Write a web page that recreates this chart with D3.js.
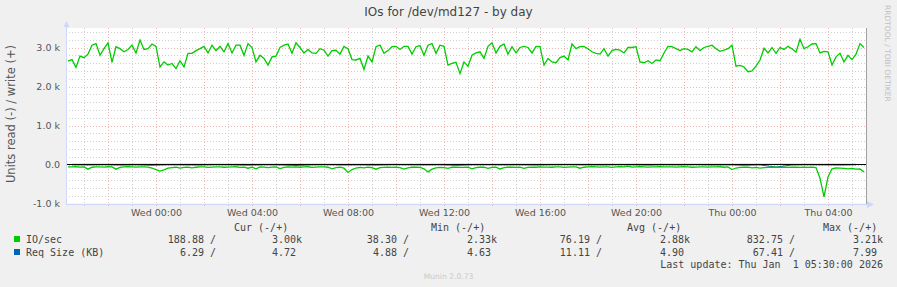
<!DOCTYPE html>
<html>
<head>
<meta charset="utf-8">
<script src="https://cdn.jsdelivr.net/npm/d3@7"></script>
<style>
body { margin: 0; background: #f0f0f0; }
svg { display: block; font-family: "DejaVu Sans", sans-serif; }
.mono { font-family: "DejaVu Sans Mono", monospace; font-size: 10px; fill: #444; white-space: pre; }
.tick text { fill: #555; font-size: 9.5px; font-family: "DejaVu Sans", sans-serif; }
</style>
</head>
<body>
<div id="chart"></div>
<script>
var width = 897, height = 287;
var plot = {left: 66, right: 866, top: 28, bottom: 203.5};

var title = "IOs for /dev/md127 - by day";
var yLabel = "Units read (-) / write (+)";

var yTicks = [-1000, 0, 1000, 2000, 3000];
var yTickLabels = ["-1.0 k", "0.0", "1.0 k", "2.0 k", "3.0 k"];

var xTicks = [
  Date.UTC(2025, 11, 31, 0), Date.UTC(2025, 11, 31, 4), Date.UTC(2025, 11, 31, 8),
  Date.UTC(2025, 11, 31, 12), Date.UTC(2025, 11, 31, 16), Date.UTC(2025, 11, 31, 20),
  Date.UTC(2026, 0, 1, 0), Date.UTC(2026, 0, 1, 4)
];
var xTickLabels = ["Wed 00:00", "Wed 04:00", "Wed 08:00", "Wed 12:00",
  "Wed 16:00", "Wed 20:00", "Thu 00:00", "Thu 04:00"];

// IO/sec, one sample every 10 minutes from Tue 20:20
var ioStart = Date.UTC(2025, 11, 30, 20, 20);
var ioStep = 10 * 60 * 1000;
var ioWrite = [
  2650,2690,2490,2780,2740,2830,3060,3100,2800,2970, 3120,2620,3020,2970,2890,2950,3060,2860,3190,2950,
  2970,3090,3030,2500,2630,2550,2590,2460,2660,2500, 2850,2850,2920,2970,3030,2860,3060,2920,3030,2890,
  3100,2860,3060,3060,2800,3100,3000,2630,2800,2720, 2550,2760,2780,3000,3060,3090,2850,3120,3000,2860,
  2950,2860,2850,2970,2930,2780,2920,2930,2830,3030, 2970,2690,2680,2720,2440,2780,2630,3020,3060,2850,
  2920,3020,3030,2950,3030,3030,2830,3020,3050,2800, 3060,3100,2850,3060,3030,2550,2590,2620,2330,2630,
  2520,2800,2860,2890,2720,3030,3120,2860,3030,3090, 2830,3020,2860,3000,3030,3000,2860,3030,3020,2550,
  2720,2630,2610,2740,2780,2680,3090,2970,3020,3030, 2970,2890,2850,2830,2970,2780,2920,2950,2930,2860,
  3000,3000,3020,2630,2610,2660,2590,2680,2660,2860, 3030,3020,2970,2920,2970,2950,2890,3020,2920,3000,
  3030,3060,2970,2900,2930,2970,3060,2520,2540,2500, 2380,2400,2520,2680,2980,2860,3000,2850,3000,2950,
  3030,2970,2880,3210,2970,3020,3090,3100,2860,2900, 2890,2550,2760,2850,2630,2800,2690,2830,3100,3000
];
var ioRead = [
  -60,-62,-58,-65,-62,-120,-70,-62,-60,-65, -58,-62,-120,-75,-62,-58,-60,-68,-62,-60,
  -65,-90,-130,-170,-140,-95,-80,-70,-95,-72, -65,-85,-70,-62,-60,-75,-68,-60,-62,-70,
  -65,-60,-58,-72,-65,-95,-70,-110,-62,-68, -80,-65,-60,-105,-75,-62,-65,-60,-70,-62,
  -58,-75,-68,-60,-62,-70,-110,-80,-70,-95, -205,-130,-90,-75,-85,-70,-78,-120,-80,-72,
  -68,-75,-70,-80,-118,-85,-70,-65,-72,-110, -190,-120,-85,-75,-80,-100,-70,-68,-72,-75,
  -70,-110,-78,-70,-68,-100,-72,-70,-115,-80, -70,-68,-75,-70,-100,-72,-65,-70,-62,-68,
  -65,-70,-62,-60,-75,-68,-62,-60,-95,-70, -62,-58,-60,-65,-62,-60,-72,-60,-58,-62,
  -40,-65,-62,-58,-60,-68,-62,-60,-58,-62, -60,-62,-65,-60,-58,-62,-70,-65,-60,-62,
  -65,-60,-62,-58,-70,-62,-130,-90,-75,-68, -70,-85,-75,-95,-80,-72,-70,-68,-75,-70,
  -72,-70,-68,-75,-70,-72,-68,-80,-350,-830, -320,-110,-90,-95,-100,-110,-100,-120,-115,-189
];

// Req Size (KB), one sample every 40 minutes from Tue 20:30
var reqStart = Date.UTC(2025, 11, 30, 20, 30);
var reqStep = 40 * 60 * 1000;
var reqRead = [
  -8,-12,-6,-15,-9,-20,-7,-11,-14,-6, -10,-18,-8,-12,-25,-9,-7,-13,-10,-16,
  -6,-9,-12,-8,-22,-10,-7,-11,-9,-14, -8,-6,-10,-12,-7,-9,-15,-8,-11,-6,
  -13,-9,-20,-10,-67,-12,-8,-10,-14,-6
];
var reqWrite = [
  4.9,5.1,4.7,4.8,5.0,4.9,4.6,5.2,4.8,4.9, 5.0,4.7,4.9,5.1,4.8,4.9,5.0,4.7,4.8,4.9,
  5.0,4.9,4.8,4.7,5.1,4.9,4.8,5.0,4.9,4.8, 4.7,4.9,5.0,4.8,4.9,5.1,4.8,4.9,4.7,4.9,
  5.0,4.8,4.9,4.7,5.0,4.9,4.8,4.9,4.8,4.7
];

// legend
var legendNames = ["IO/sec", "Req Size (KB)"];
var legendColors = ["#00cc00", "#0066b3"];
var legendHeaders = ["Cur (-/+)", "Min (-/+)", "Avg (-/+)", "Max (-/+)"];
var legendStats = [
  ["188.88", "3.00k", "38.30", "2.33k", "76.19", "2.88k", "832.75", "3.21k"],
  ["6.29", "4.72", "4.88", "4.63", "11.11", "4.90", "67.41", "7.99"]
];
var lastUpdate = "Last update: Thu Jan  1 05:30:00 2026";

function series(start, step, values)
{
  return values.map(function(v, i) { return {t: new Date(start + i * step), v: v}; });
}

var svg = d3.select("#chart")
  .append("svg")
  .attr("width", width)
  .attr("height", height);

var x = d3.scaleUtc()
  .domain([Date.UTC(2025, 11, 30, 20, 15), Date.UTC(2026, 0, 1, 5, 35)])
  .range([plot.left, plot.right]);

var y = d3.scaleLinear()
  .domain([-1000, 3500])
  .range([plot.bottom, plot.top]);

svg.append("rect")
  .attr("x", plot.left)
  .attr("y", plot.top)
  .attr("width", plot.right - plot.left)
  .attr("height", plot.bottom - plot.top)
  .attr("fill", "#ffffff");

// grid
var minorY = d3.range(-1000, 3500, 200).filter(function(d) { return d % 1000 !== 0; });
var hours = x.ticks(d3.utcHour.every(1));
var minorX = hours.filter(function(d) { return d.getUTCHours() % 2 !== 0; });
var majorX = hours.filter(function(d) { return d.getUTCHours() % 2 === 0; });

var grid = svg.append("g").attr("shape-rendering", "crispEdges");
grid.selectAll(".hmin").data(minorY).enter().append("line")
  .attr("x1", plot.left).attr("x2", plot.right)
  .attr("y1", function(d) { return Math.round(y(d)) + 0.5; })
  .attr("y2", function(d) { return Math.round(y(d)) + 0.5; })
  .attr("stroke", "#d0d0d0").attr("stroke-dasharray", "1,2");
grid.selectAll(".vmin").data(minorX).enter().append("line")
  .attr("y1", plot.top).attr("y2", plot.bottom + 3)
  .attr("x1", function(d) { return Math.round(x(d)) + 0.5; })
  .attr("x2", function(d) { return Math.round(x(d)) + 0.5; })
  .attr("stroke", "#d0d0d0").attr("stroke-dasharray", "1,2");
grid.selectAll(".hmaj").data(yTicks).enter().append("line")
  .attr("x1", plot.left).attr("x2", plot.right)
  .attr("y1", function(d) { return Math.round(y(d)) + 0.5; })
  .attr("y2", function(d) { return Math.round(y(d)) + 0.5; })
  .attr("stroke", "#efb4b4").attr("stroke-dasharray", "1,2");
grid.selectAll(".vmaj").data(majorX).enter().append("line")
  .attr("y1", plot.top).attr("y2", plot.bottom + 3)
  .attr("x1", function(d) { return Math.round(x(d)) + 0.5; })
  .attr("x2", function(d) { return Math.round(x(d)) + 0.5; })
  .attr("stroke", "#efb4b4").attr("stroke-dasharray", "1,2");

// data lines
var line = d3.line()
  .x(function(d) { return x(d.t); })
  .y(function(d) { return y(d.v); });

svg.append("path")
  .datum(series(reqStart, reqStep, reqRead))
  .attr("d", line).attr("fill", "none")
  .attr("stroke", legendColors[1]).attr("stroke-width", 1);
svg.append("path")
  .datum(series(reqStart, reqStep, reqWrite))
  .attr("d", line).attr("fill", "none")
  .attr("stroke", legendColors[1]).attr("stroke-width", 0.8);
svg.append("path")
  .datum(series(ioStart, ioStep, ioRead))
  .attr("d", line).attr("fill", "none")
  .attr("stroke", legendColors[0]).attr("stroke-width", 1.3);
svg.append("path")
  .datum(series(ioStart, ioStep, ioWrite))
  .attr("d", line).attr("fill", "none")
  .attr("stroke", legendColors[0]).attr("stroke-width", 1.3);

// zero line
svg.append("line")
  .attr("x1", plot.left).attr("x2", plot.right)
  .attr("y1", Math.round(y(0)) - 0.5).attr("y2", Math.round(y(0)) - 0.5)
  .attr("stroke", "#000000").attr("shape-rendering", "crispEdges");

// frame and axes
svg.append("line")
  .attr("x1", plot.right + 0.5).attr("x2", plot.right + 0.5)
  .attr("y1", plot.top).attr("y2", plot.bottom)
  .attr("stroke", "#a0a0a0").attr("shape-rendering", "crispEdges");
svg.append("line")
  .attr("x1", plot.left + 0.5).attr("x2", plot.left + 0.5)
  .attr("y1", 24).attr("y2", plot.bottom + 0.5)
  .attr("stroke", "#cfd6f8").attr("shape-rendering", "crispEdges");
svg.append("line")
  .attr("x1", plot.left).attr("x2", plot.right + 4)
  .attr("y1", Math.round(plot.bottom) + 0.5).attr("y2", Math.round(plot.bottom) + 0.5)
  .attr("stroke", "#cfd6f8").attr("shape-rendering", "crispEdges");
svg.append("path")
  .attr("d", "M63.5,27L66.5,21L69.5,27Z")
  .attr("fill", "#cfd6f8");
svg.append("path")
  .attr("d", "M867,201L874,204.5L867,208Z")
  .attr("fill", "#cfd6f8");

var yAxis = d3.axisLeft(y)
  .tickValues(yTicks)
  .tickFormat(function(d, i) { return yTickLabels[i]; })
  .tickSize(0)
  .tickPadding(6);
svg.append("g")
  .attr("transform", "translate(" + plot.left + ",0)")
  .call(yAxis)
  .call(function(g) { g.select(".domain").remove(); });

var xAxis = d3.axisBottom(x)
  .tickValues(xTicks.map(function(d) { return new Date(d); }))
  .tickFormat(function(d, i) { return xTickLabels[i]; })
  .tickSize(0)
  .tickPadding(6);
svg.append("g")
  .attr("transform", "translate(0," + plot.bottom + ")")
  .call(xAxis)
  .call(function(g) { g.select(".domain").remove(); });

// titles
svg.append("text")
  .text(title)
  .attr("x", width / 2)
  .attr("y", 16)
  .attr("text-anchor", "middle")
  .attr("font-size", "12px")
  .attr("fill", "#444");

svg.append("text")
  .text(yLabel)
  .attr("transform", "translate(15,114) rotate(-90)")
  .attr("text-anchor", "middle")
  .attr("font-size", "11.5px")
  .attr("fill", "#555");

svg.append("text")
  .text("RRDTOOL / TOBI OETIKER")
  .attr("transform", "translate(885,5) rotate(90)")
  .attr("text-anchor", "start")
  .attr("font-size", "7.5px")
  .attr("fill", "#c0c0c0");

// legend
var headerX = [234, 431, 627, 823];
var colRight = [216, 302, 409, 497, 602, 690, 795, 883];

svg.selectAll(".lhead").data(legendHeaders).enter().append("text")
  .attr("class", "mono")
  .attr("x", function(d, i) { return headerX[i]; })
  .attr("y", 231)
  .text(function(d) { return d; });

legendNames.forEach(function(name, r)
{
  var rowY = 243 + r * 13;
  svg.append("rect")
    .attr("x", 14).attr("y", rowY - 7)
    .attr("width", 6).attr("height", 6)
    .attr("fill", legendColors[r]);
  svg.append("text")
    .attr("class", "mono")
    .attr("x", 26).attr("y", rowY)
    .text(name);
  svg.selectAll(".lrow" + r).data(legendStats[r]).enter().append("text")
    .attr("class", "mono")
    .attr("x", function(d, i) { return colRight[i]; })
    .attr("y", rowY)
    .attr("text-anchor", "end")
    .text(function(d, i) {
      if (i % 2 === 0) return d + " /";
      return /k$/.test(d) ? d : d + " ";
    });
});

svg.append("text")
  .attr("class", "mono")
  .attr("x", 883).attr("y", 268)
  .attr("text-anchor", "end")
  .text(lastUpdate);

svg.append("text")
  .text("Munin 2.0.73")
  .attr("x", 448.5)
  .attr("y", 279)
  .attr("text-anchor", "middle")
  .attr("font-size", "7.6px")
  .attr("fill", "#c8c8c8");
</script>
</body>
</html>
